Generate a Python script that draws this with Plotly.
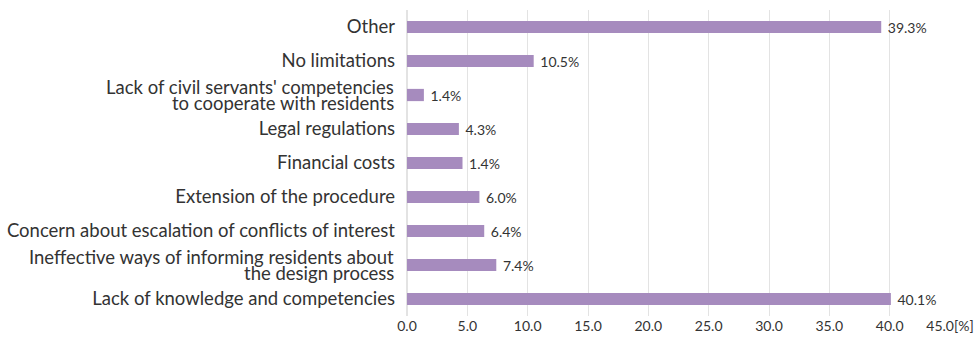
import plotly.graph_objects as go

categories = [
    "Lack of knowledge and competencies",
    "Ineffective ways of informing residents about the design process",
    "Concern about escalation of conflicts of interest",
    "Extension of the procedure",
    "Financial costs",
    "Legal regulations",
    "Lack of civil servants' competencies to cooperate with residents",
    "No limitations",
    "Other",
]
# display lines of each category label (top line first)
label_lines = [
    ["Lack of knowledge and competencies"],
    ["Ineffective ways of informing residents about", "the design process"],
    ["Concern about escalation of conflicts of interest"],
    ["Extension of the procedure"],
    ["Financial costs"],
    ["Legal regulations"],
    ["Lack of civil servants' competencies", "to cooperate with residents"],
    ["No limitations"],
    ["Other"],
]
values = [40.1, 7.4, 6.4, 6.0, 4.6, 4.3, 1.4, 10.5, 39.3]
labels = ["40.1%", "7.4%", "6.4%", "6.0%", "1.4%", "4.3%", "1.4%", "10.5%", "39.3%"]
tick_vals = [0, 5, 10, 15, 20, 25, 30, 35, 40, 45]
tick_text = ["0.0", "5.0", "10.0", "15.0", "20.0", "25.0", "30.0", "35.0", "40.0", "45.0[%]"]

FONT = "Lato, 'Open Sans', sans-serif"
TXT = "#333333"
CAT_SIZE = 18.5
LINE_GAP = 16

fig = go.Figure(
    go.Bar(
        y=categories,
        x=values,
        orientation="h",
        marker=dict(color="#a68bbe", line=dict(width=0)),
        width=0.36,
        text=["\u00a0" + t for t in labels],
        textposition="outside",
        constraintext="none",
        textfont=dict(family=FONT, size=14, color=TXT),
        cliponaxis=False,
    )
)

ytext = []
for cat, lines in zip(categories, label_lines):
    if len(lines) == 1:
        ytext.append(lines[0])
    else:
        ytext.append("")
        n = len(lines)
        for i, line in enumerate(lines):
            fig.add_annotation(
                x=0, xref="paper", xanchor="right", xshift=-11,
                y=cat, yref="y", yanchor="middle",
                yshift=((n - 1) / 2 - i) * LINE_GAP,
                text=line, showarrow=False,
                font=dict(family=FONT, size=CAT_SIZE, color=TXT),
            )

fig.update_layout(
    width=977,
    height=339,
    margin=dict(l=407, r=27, t=10, b=23),
    paper_bgcolor="white",
    plot_bgcolor="white",
    showlegend=False,
    font=dict(family=FONT, color=TXT),
    xaxis=dict(
        range=[0, 45],
        tickvals=tick_vals,
        ticktext=tick_text,
        showgrid=True,
        gridcolor="#e3e3e3",
        gridwidth=1,
        zeroline=True,
        zerolinecolor="#e3e3e3",
        showline=False,
        tickfont=dict(family=FONT, size=14, color=TXT),
        ticks="",
        automargin=False,
    ),
    yaxis=dict(
        categoryorder="array",
        categoryarray=categories,
        tickvals=categories,
        ticktext=ytext,
        showgrid=False,
        showline=False,
        ticks="",
        tickfont=dict(family=FONT, size=CAT_SIZE, color=TXT),
        ticklabelstandoff=11,
        automargin=False,
    ),
)

fig.write_html("out.html")
